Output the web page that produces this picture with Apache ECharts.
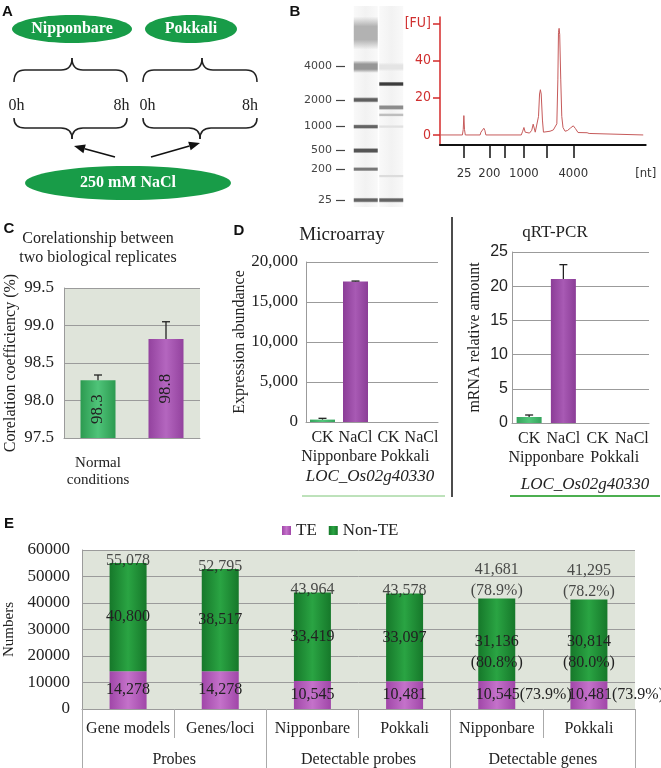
<!DOCTYPE html>
<html><head><meta charset="utf-8">
<script src="https://cdn.jsdelivr.net/npm/echarts@6/dist/echarts.min.js"></script>
<style>html,body{margin:0;padding:0;background:#fff}#c{width:661px;height:768px}</style>
</head><body><div id="c"></div>
<script>
// ---------------- DATA ----------------
// Panel B: gel
const gelLanes = ['Ladder', 'Sample'];
const gelLadderLabels = ['4000', '2000', '1000', '500', '200', '25'];
const gelLadderPos = [22.2, 33.3, 42.2, 50.2, 56.4, 66.7];
// [lane, position, thickness, grey level]
const gelBands = [
  [0, 11, 11, 178], [0, 22.2, 4.2, 150], [0, 33.3, 1.9, 95], [0, 42.2, 1.6, 100],
  [0, 50.2, 1.9, 85], [0, 56.4, 1.5, 120], [0, 66.7, 1.8, 100],
  [1, 22.3, 3, 228], [1, 28, 1.7, 60], [1, 35.8, 1.8, 140], [1, 38.3, 1.2, 190],
  [1, 42.2, 1.1, 225], [1, 58.7, 1.1, 220], [1, 66.7, 1.8, 100]
];
const gelLaneSpan = [[0, 2, 69], [1, 2, 69]];
// Panel B: electropherogram
const fuTrace = [[0,0],[10.9,0],[11.3,3],[11.6,10.4],[11.9,3],[12.3,0],[19.5,0],[19.9,1.5],[20.3,2],[20.8,1],[21.3,3.6],[21.8,2.5],[22.3,0],
  [39.5,0],[40.2,2],[40.8,4],[41.4,1.5],[42,0.5],[43.5,1],[44.6,2.5],[45.3,5.8],[45.9,6],[46.3,1.5],[47.2,1.2],[47.9,10],[48.4,22],[48.8,24.3],
  [49.2,22],[49.8,8],[50.3,1.5],[51,1],[53.5,2],[55.1,2.7],[56,3.5],[56.8,6],[57.3,30],[57.6,55],[57.9,57.3],[58.2,54],[58.7,30],[59.2,10],
  [59.8,4],[60.8,2],[62,2.4],[63.5,3.8],[64.8,4.9],[65.8,3.5],[67.1,1.3],[71.5,1.2],[72.5,0.8],[73.2,0],[98.8,0]];
const fuTicks = [0, 20, 40, 60];
const ntTickPos = [11.7, 24.0, 31.6, 40.8, 51.9, 64.8];
const ntLabelPos = [11.7, 24.0, 40.8, 64.8, 100];
const ntLabels = ['25', '200', '1000', '4000', '[nt]'];
// Panel C
const cCategories = ['Normal\nconditions', 'NaCl'];
const cValues = [98.27, 98.82];
const cErrHigh = [98.34, 99.05];
// Panel D
const dCategories = ['CK', 'NaCl', 'CK', 'NaCl'];
const dGroups = ['Nipponbare', 'Pokkali'];
const dMicroValues = [300, 17566, 0, 0];
const dMicroErrHigh = [460, 17620, null, null];
const dQpcrValues = [0.88, 21.05, 0, 0];
const dQpcrErrHigh = [1.17, 23.15, null, null];
// Panel E
const eCategories = ['Gene models', 'Genes/loci', 'Nipponbare', 'Pokkali', 'Nipponbare', 'Pokkali'];
const eGroups = ['Probes', 'Detectable probes', 'Detectable genes'];
const eTE = [14278, 14278, 10545, 10481, 10545, 10481];
const eNonTE = [40800, 38517, 33419, 33097, 31136, 30814];
const eTotal = [55078, 52795, 43964, 43578, 41681, 41295];
const eTEPct = [null, null, null, null, '73.9%', '73.9%'];
const eNonTEPct = [null, null, null, null, '80.8%', '80.0%'];
const eTotalPct = [null, null, null, null, '78.9%', '78.2%'];

// ---------------- STYLE HELPERS ----------------
const serif = '"Liberation Serif","Times New Roman",serif';
const sans = '"Liberation Sans",Arial,sans-serif';
const narrow = '"Liberation Sans Narrow","DejaVu Sans Condensed",sans-serif';
const fmt = v => Number(v).toLocaleString('en-US');
function hgrad(edge, mid) {
  return new echarts.graphic.LinearGradient(0, 0, 1, 0, [
    {offset: 0, color: edge}, {offset: 0.5, color: mid}, {offset: 1, color: edge}]);
}
const gridGrey = '#9b9b9b';

function errRender(params, api) {
  const x = api.value(0), lo = api.value(1), hi = api.value(2);
  if (isNaN(hi)) return null;
  const p1 = api.coord([x, lo]), p2 = api.coord([x, hi]);
  const hw = 4;
  return {type: 'group', children: [
    {type: 'line', shape: {x1: p1[0], y1: p1[1], x2: p2[0], y2: p2[1]}, style: {stroke: '#222', lineWidth: 1.3}},
    {type: 'line', shape: {x1: p2[0] - hw, y1: p2[1], x2: p2[0] + hw, y2: p2[1]}, style: {stroke: '#222', lineWidth: 1.3}}
  ]};
}
function gelRender(params, api) {
  const lane = api.value(0), pos = api.value(1), th = api.value(2), g = Math.round(api.value(3));
  const c = api.coord([lane, pos]);
  const w = api.size([1, 0])[0] * 0.94;
  const h = Math.abs(api.size([0, th])[1]);
  const col = a => 'rgba(' + g + ',' + g + ',' + g + ',' + a + ')';
  return {type: 'rect', shape: {x: c[0] - w / 2, y: c[1] - h / 2, width: w, height: h},
    style: {fill: new echarts.graphic.LinearGradient(0, 0, 0, 1, [
      {offset: 0, color: col(0)}, {offset: 0.3, color: col(1)}, {offset: 0.7, color: col(1)}, {offset: 1, color: col(0)}])}};
}
function laneRender(params, api) {
  const lane = api.value(0);
  const a = api.coord([lane, api.value(1)]), b = api.coord([lane, api.value(2)]);
  const w = api.size([1, 0])[0] * 0.94;
  return {type: 'rect', shape: {x: a[0] - w / 2, y: a[1], width: w, height: b[1] - a[1]},
    style: {fill: new echarts.graphic.LinearGradient(0, 0, 1, 0, [
      {offset: 0, color: '#f9f9f9'}, {offset: 0.5, color: '#f2f2f2'}, {offset: 1, color: '#f9f9f9'}])}};
}

// ---------------- PANEL A GRAPHICS ----------------
function brace(x1, x2, xm, yEnd, yMid, yTip) {
  const r = 11, st = {stroke: '#222', fill: null, lineWidth: 1.5};
  return [
    {type: 'bezierCurve', shape: {x1: x1, y1: yEnd, cpx1: x1, cpy1: yMid, x2: x1 + r, y2: yMid}, style: st},
    {type: 'line', shape: {x1: x1 + r, y1: yMid, x2: xm - r, y2: yMid}, style: st},
    {type: 'bezierCurve', shape: {x1: xm - r, y1: yMid, cpx1: xm, cpy1: yMid, x2: xm, y2: yTip}, style: st},
    {type: 'bezierCurve', shape: {x1: xm, y1: yTip, cpx1: xm, cpy1: yMid, x2: xm + r, y2: yMid}, style: st},
    {type: 'line', shape: {x1: xm + r, y1: yMid, x2: x2 - r, y2: yMid}, style: st},
    {type: 'bezierCurve', shape: {x1: x2 - r, y1: yMid, cpx1: x2, cpy1: yMid, x2: x2, y2: yEnd}, style: st}
  ];
}
function arrow(x1, y1, x2, y2) {
  const ang = Math.atan2(y2 - y1, x2 - x1), L = 11, W = 4.5;
  const bx = x2 - L * Math.cos(ang), by = y2 - L * Math.sin(ang);
  const px = -Math.sin(ang) * W, py = Math.cos(ang) * W;
  return [
    {type: 'line', shape: {x1: x1, y1: y1, x2: bx, y2: by}, style: {stroke: '#111', lineWidth: 1.6}},
    {type: 'polygon', shape: {points: [[x2, y2], [bx + px, by + py], [bx - px, by - py]]}, style: {fill: '#111'}}
  ];
}
const green = '#189c48';
function txt(t, x, y, font, fill) {
  return {type: 'text', x: x, y: y, style: {text: t, font: font, fill: fill || '#222', align: 'center', verticalAlign: 'middle'}};
}
const graphics = [
  txt('A', 7.5, 12, 'bold 15px ' + sans, '#111'),
  txt('B', 295, 11.5, 'bold 15px ' + sans, '#111'),
  txt('C', 9, 229, 'bold 15px ' + sans, '#111'),
  txt('D', 239, 231, 'bold 15px ' + sans, '#111'),
  txt('E', 9, 524, 'bold 15px ' + sans, '#111'),
  {type: 'ellipse', shape: {cx: 72, cy: 29, rx: 60, ry: 14}, style: {fill: green}},
  {type: 'ellipse', shape: {cx: 191, cy: 29, rx: 46, ry: 14}, style: {fill: green}},
  {type: 'ellipse', shape: {cx: 128, cy: 183, rx: 103, ry: 17}, style: {fill: green}},
  txt('Nipponbare', 72, 29, 'bold 16px ' + serif, '#fff'),
  txt('Pokkali', 191, 29, 'bold 16px ' + serif, '#fff'),
  txt('250 mM NaCl', 128, 183, 'bold 16px ' + serif, '#fff'),
  ...brace(14, 127, 72, 82, 70, 58),
  ...brace(143, 257, 202, 82, 70, 58),
  ...brace(14, 127, 72, 118, 128, 139),
  ...brace(143, 257, 200, 118, 128, 139),
  txt('0h', 16.5, 106, '16px ' + serif),
  txt('8h', 121.5, 106, '16px ' + serif),
  txt('0h', 147.5, 106, '16px ' + serif),
  txt('8h', 250, 106, '16px ' + serif),
  ...arrow(115, 157, 74, 146),
  ...arrow(151, 157, 200, 143),
  // panel C title
  txt('Corelationship between', 98, 239, '16px ' + serif),
  txt('two biological replicates', 98, 258, '16px ' + serif),
  // panel D titles & captions
  txt('Microarray', 342, 235, '19px ' + serif),
  txt('qRT-PCR', 555, 233, '17px ' + serif),
  txt('LOC_Os02g40330', 370, 477, 'italic 17px ' + serif),
  txt('LOC_Os02g40330', 585, 485, 'italic 17px ' + serif),
  {type: 'line', shape: {x1: 302, y1: 496, x2: 445, y2: 496}, style: {stroke: '#7cc576', lineWidth: 1}},
  {type: 'line', shape: {x1: 510, y1: 496, x2: 660, y2: 496}, style: {stroke: '#4caf50', lineWidth: 2}},
  {type: 'line', shape: {x1: 452, y1: 217, x2: 452, y2: 497}, style: {stroke: '#111', lineWidth: 1.5}}
];

// ---------------- OPTION ----------------
const gb = {outerBoundsMode: 'none', containLabel: false};
const grids = [
  Object.assign({left: 353, top: 0, width: 51, height: 210}, gb),               // 0 gel
  Object.assign({left: 440, top: 17, width: 205.7, height: 128}, gb),           // 1 electropherogram
  Object.assign({left: 64, top: 288, width: 136, height: 150, show: true, backgroundColor: '#dfe4da', borderWidth: 0}, gb), // 2 C
  Object.assign({left: 306, top: 262, width: 132, height: 160}, gb),            // 3 D left
  Object.assign({left: 512, top: 252, width: 137, height: 171}, gb),            // 4 D right
  Object.assign({left: 82, top: 550, width: 553, height: 159, show: true, backgroundColor: '#dfe4da', borderWidth: 0}, gb) // 5 E
];
const hide = {show: false};
const dLab = {interval: 0, fontFamily: serif, fontSize: 16, color: '#222'};
const xAxes = [
  {gridIndex: 0, type: 'category', data: gelLanes, show: false},
  {gridIndex: 1, type: 'value', min: 0, max: 100,
    axisLine: {onZero: false, lineStyle: {color: '#111', width: 2}},
    axisTick: {show: true, customValues: ntTickPos, length: 13, lineStyle: {color: '#111', width: 1.5}},
    axisLabel: {customValues: ntLabelPos, margin: 22, formatter: v => ntLabels[ntLabelPos.indexOf(v)], fontFamily: narrow, fontSize: 13, color: '#333'},
    splitLine: hide},
  {gridIndex: 2, type: 'category', data: cCategories, axisTick: hide,
    axisLine: {lineStyle: {color: gridGrey}},
    axisLabel: {fontFamily: serif, fontSize: 15, color: '#222', lineHeight: 17, margin: 17}},
  {gridIndex: 3, type: 'category', data: dCategories, axisTick: hide,
    axisLine: {lineStyle: {color: gridGrey}},
    axisLabel: Object.assign({margin: 8}, dLab)},
  {gridIndex: 3, type: 'category', data: dGroups, position: 'bottom', offset: 0, axisTick: hide, axisLine: hide,
    axisLabel: Object.assign({margin: 27}, dLab)},
  {gridIndex: 4, type: 'category', data: dCategories, axisTick: hide,
    axisLine: {lineStyle: {color: gridGrey}},
    axisLabel: Object.assign({margin: 8}, dLab)},
  {gridIndex: 4, type: 'category', data: dGroups, position: 'bottom', offset: 0, axisTick: hide, axisLine: hide,
    axisLabel: Object.assign({margin: 27}, dLab)},
  {gridIndex: 5, type: 'category', data: eCategories,
    axisLine: {lineStyle: {color: gridGrey}},
    axisTick: {show: true, interval: 0, length: 29, lineStyle: {color: '#aaa'}},
    axisLabel: {interval: 0, fontFamily: serif, fontSize: 16, color: '#222', margin: 12}},
  {gridIndex: 5, type: 'category', data: eGroups, position: 'bottom', offset: 0, axisLine: hide,
    axisTick: {show: true, interval: 0, length: 59, lineStyle: {color: '#aaa'}},
    axisLabel: {interval: 0, fontFamily: serif, fontSize: 16, color: '#222', margin: 43}}
];
const yAxes = [
  {gridIndex: 0, type: 'value', min: 0, max: 70, inverse: true, offset: 8,
    axisLine: hide, splitLine: hide,
    axisTick: {show: true, customValues: gelLadderPos, length: 9, lineStyle: {color: '#444', width: 1.2}},
    axisLabel: {customValues: gelLadderPos, margin: 13, formatter: v => gelLadderLabels[gelLadderPos.indexOf(v)], fontFamily: '"DejaVu Sans",sans-serif', fontSize: 11, color: '#444'}},
  {gridIndex: 1, type: 'value', min: -5.4, max: 63.4,
    axisLine: {show: true, lineStyle: {color: '#d42a2a', width: 1.5}},
    axisTick: {show: true, customValues: fuTicks, length: 7, lineStyle: {color: '#d42a2a', width: 1.5}},
    axisLabel: {customValues: fuTicks, margin: 9, formatter: v => v === 60 ? '[FU]' : String(v), fontFamily: narrow, fontSize: 14, color: '#d03030'},
    splitLine: hide},
  {gridIndex: 2, type: 'value', min: 97.5, max: 99.5, interval: 0.5,
    axisLine: {show: true, lineStyle: {color: gridGrey}},
    splitLine: {lineStyle: {color: gridGrey}},
    axisLabel: {formatter: v => v.toFixed(1), fontFamily: serif, fontSize: 17, color: '#222', margin: 10},
    name: 'Corelation coefficiency (%)', nameLocation: 'middle', nameGap: 45,
    nameTextStyle: {fontFamily: serif, fontSize: 16, color: '#222'}},
  {gridIndex: 3, type: 'value', min: 0, max: 20000, interval: 5000,
    axisLine: {show: true, lineStyle: {color: gridGrey}},
    splitLine: {lineStyle: {color: gridGrey}},
    axisLabel: {formatter: v => fmt(v), fontFamily: serif, fontSize: 17, color: '#222', margin: 8},
    name: 'Expression abundance', nameLocation: 'middle', nameGap: 53,
    nameTextStyle: {fontFamily: serif, fontSize: 16, color: '#222'}},
  {gridIndex: 4, type: 'value', min: 0, max: 25, interval: 5,
    axisLine: {show: true, lineStyle: {color: gridGrey}},
    splitLine: {lineStyle: {color: gridGrey}},
    axisLabel: {fontFamily: sans, fontSize: 16, color: '#222', margin: 4},
    name: 'mRNA relative amount', nameLocation: 'middle', nameGap: 29,
    nameTextStyle: {fontFamily: serif, fontSize: 16, color: '#222'}},
  {gridIndex: 5, type: 'value', min: 0, max: 60000, interval: 10000,
    axisLine: {show: true, lineStyle: {color: gridGrey}},
    splitLine: {lineStyle: {color: gridGrey}},
    axisLabel: {formatter: v => String(v), fontFamily: serif, fontSize: 17, color: '#222', margin: 12},
    name: 'Numbers', nameLocation: 'middle', nameGap: 58,
    nameTextStyle: {fontFamily: serif, fontSize: 15, color: '#222'}}
];

const eGreen = hgrad('#16782a', '#2aa443');
const ePurple = hgrad('#a046a8', '#c472ca');
const labelFont = {fontFamily: serif, fontSize: 16, color: '#222'};

const series = [
  // gel
  {name: 'lanes', type: 'custom', xAxisIndex: 0, yAxisIndex: 0, renderItem: laneRender, data: gelLaneSpan, silent: true},
  {name: 'bands', type: 'custom', xAxisIndex: 0, yAxisIndex: 0, renderItem: gelRender, data: gelBands, silent: true, z: 3},
  // electropherogram
  {name: 'FU', type: 'line', xAxisIndex: 1, yAxisIndex: 1, data: fuTrace, showSymbol: false, smooth: false,
    lineStyle: {color: '#c65a5a', width: 1}},
  // C
  {name: 'C', type: 'bar', xAxisIndex: 2, yAxisIndex: 2, barWidth: 35,
    data: cValues.map((v, i) => ({value: v, itemStyle: {color: i === 0 ? hgrad('#2c9a50', '#4fc479') : hgrad('#93429e', '#b466bf')}})),
    label: {show: true, position: 'inside', rotate: 90, formatter: p => p.value.toFixed(1), fontFamily: serif, fontSize: 17, color: '#222'}},
  {name: 'Cerr', type: 'custom', xAxisIndex: 2, yAxisIndex: 2, renderItem: errRender, z: 5,
    data: cValues.map((v, i) => [i, v, cErrHigh[i]])},
  // D left
  {name: 'Dm', type: 'bar', xAxisIndex: 3, yAxisIndex: 3, barWidth: 25,
    data: dMicroValues.map((v, i) => ({value: v, itemStyle: {color: i % 2 === 0 ? hgrad('#35a35c', '#52c77b') : hgrad('#8b3d97', '#a85ab4')}}))},
  {name: 'Dmerr', type: 'custom', xAxisIndex: 3, yAxisIndex: 3, renderItem: errRender, z: 5,
    data: dMicroValues.map((v, i) => [i, v, dMicroErrHigh[i] == null ? NaN : dMicroErrHigh[i]])},
  // D right
  {name: 'Dq', type: 'bar', xAxisIndex: 5, yAxisIndex: 4, barWidth: 25,
    data: dQpcrValues.map((v, i) => ({value: v, itemStyle: {color: i % 2 === 0 ? hgrad('#35a35c', '#52c77b') : hgrad('#8b3d97', '#a85ab4')}}))},
  {name: 'Dqerr', type: 'custom', xAxisIndex: 5, yAxisIndex: 4, renderItem: errRender, z: 5,
    data: dQpcrValues.map((v, i) => [i, v, dQpcrErrHigh[i] == null ? NaN : dQpcrErrHigh[i]])},
  // E
  {name: 'TE', type: 'bar', xAxisIndex: 7, yAxisIndex: 5, stack: 'e', barWidth: 37, itemStyle: {color: ePurple},
    data: eTE.map((v, i) => eTEPct[i] ? {value: v, label: {align: 'left', offset: [-21, 0], formatter: fmt(v) + '(' + eTEPct[i] + ')'}} : v),
    label: Object.assign({show: true, position: 'inside', formatter: p => fmt(p.value)}, labelFont)},
  {name: 'Non-TE', type: 'bar', xAxisIndex: 7, yAxisIndex: 5, stack: 'e', barWidth: 37, itemStyle: {color: eGreen},
    data: eNonTE.map((v, i) => eNonTEPct[i] ? {value: v, label: {offset: [0, 12], lineHeight: 21, formatter: fmt(v) + '\n(' + eNonTEPct[i] + ')'}} : v),
    label: Object.assign({show: true, position: 'inside', formatter: p => fmt(p.value)}, labelFont)},
  {name: 'Total', type: 'scatter', xAxisIndex: 7, yAxisIndex: 5, symbolSize: 0, z: 10,
    data: eTotal.map((v, i) => eTotalPct[i] ? {value: v, label: {distance: -3}} : {value: v, label: {distance: -8}}),
    label: Object.assign({show: true, position: 'top', lineHeight: 21,
      formatter: p => fmt(p.value) + (eTotalPct[p.dataIndex] ? '\n(' + eTotalPct[p.dataIndex] + ')' : '')}, labelFont)}
];

const option = {
  animation: false,
  backgroundColor: '#fff',
  legend: {data: ['TE', 'Non-TE'], left: 277, top: 517, icon: 'rect', itemWidth: 9, itemHeight: 9, itemGap: 12,
    textStyle: {fontFamily: serif, fontSize: 17, color: '#222'}, selectedMode: false},
  grid: grids,
  xAxis: xAxes,
  yAxis: yAxes,
  series: series,
  graphic: graphics
};
const chart = echarts.init(document.getElementById('c'), null, {renderer: 'canvas'});
chart.setOption(option);
</script></body></html>
